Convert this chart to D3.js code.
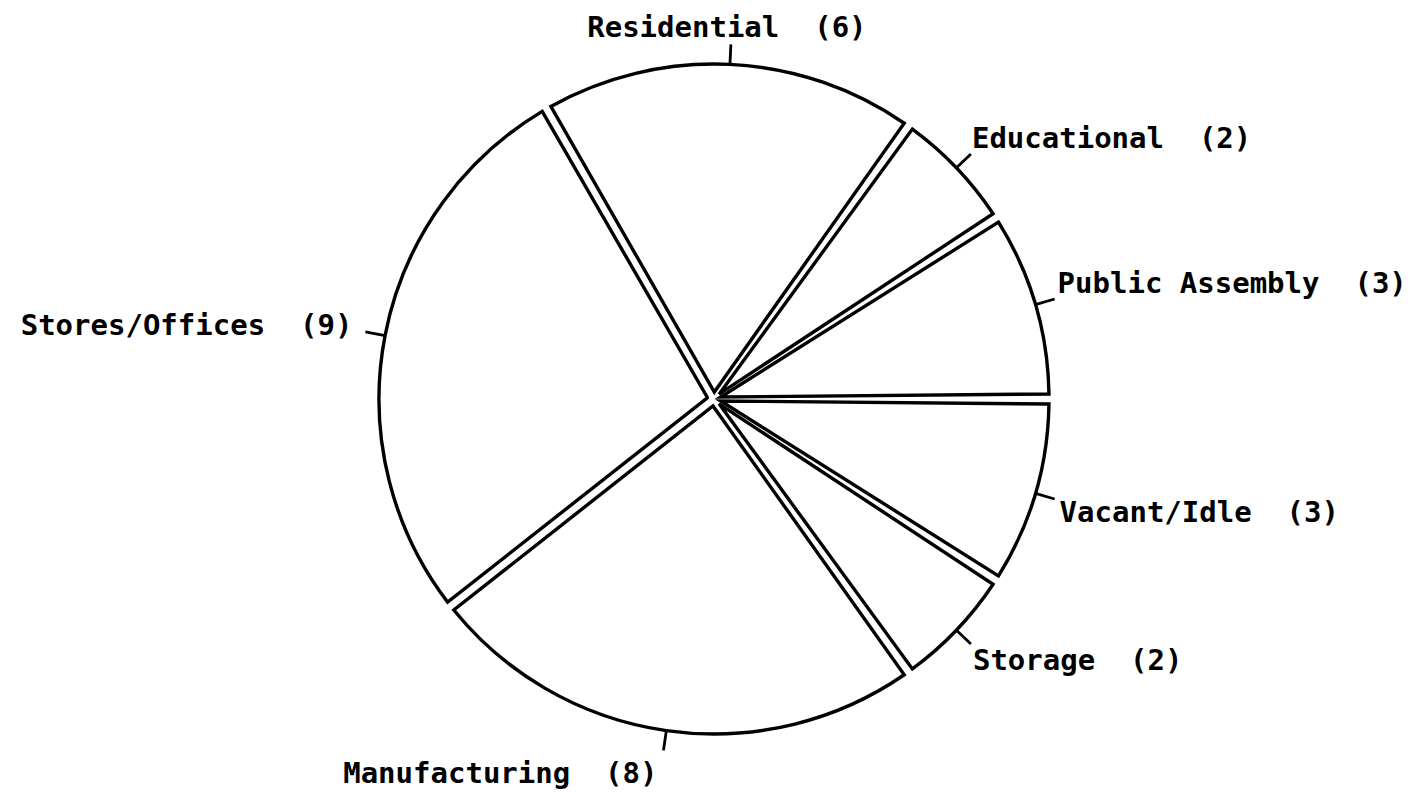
<!DOCTYPE html>
<html>
<head>
<meta charset="utf-8">
<script src="https://cdn.jsdelivr.net/npm/d3@7"></script>
<style>
  html, body { margin: 0; padding: 0; background: #fff; }
  svg { display: block; }
  text { font-family: "DejaVu Sans Mono", "Liberation Mono", monospace; font-weight: bold; font-size: 29px; fill: #000; white-space: pre; }
</style>
</head>
<body>
<svg id="chart" width="1420" height="793"></svg>
<script>
// Data (counterclockwise from the 3 o'clock position)
const categories = ["Public Assembly", "Educational", "Residential", "Stores/Offices", "Manufacturing", "Storage", "Vacant/Idle"];
const counts = [3, 2, 6, 9, 8, 2, 3];

// Layout
const W = 1420, H = 793;
const cx = 714, cy = 399, R = 335;
const tickLen = 20;
// label placement: [anchor, dx, dy] relative to the end of the leader tick
const labelLayout = {
  "Public Assembly": ["start", 3, -6],
  "Educational": ["start", 1, -6],
  "Residential": ["middle", -4, -7],
  "Stores/Offices": ["end", -13, 3],
  "Manufacturing": ["end", -6, 33],
  "Storage": ["start", 2, 26],
  "Vacant/Idle": ["start", 5, 23]
};

const data = categories.map((c, i) => ({ name: c, value: counts[i] }));

const svg = d3.select("#chart");
const g = svg.append("g").attr("transform", `translate(${cx},${cy})`);

const pie = d3.pie()
  .sort(null)
  .value(d => d.value)
  .startAngle(Math.PI / 2)
  .endAngle(Math.PI / 2 - 2 * Math.PI);

const arcs = pie(data);

const arc = d3.arc()
  .innerRadius(7)
  .outerRadius(R)
  .padRadius(R)
  .padAngle(2 * Math.asin(5 / R));

g.selectAll("path.slice")
  .data(arcs)
  .join("path")
  .attr("class", "slice")
  .attr("d", arc)
  .attr("fill", "#fff")
  .attr("stroke", "#000")
  .attr("stroke-width", 3.4)
  .attr("stroke-linejoin", "miter");

function pt(a, r) { return [r * Math.sin(a), -r * Math.cos(a)]; }

arcs.forEach(d => {
  const a = (d.startAngle + d.endAngle) / 2;
  const p0 = pt(a, R);
  const p1 = pt(a, R + tickLen);
  g.append("line")
    .attr("x1", p0[0]).attr("y1", p0[1])
    .attr("x2", p1[0]).attr("y2", p1[1])
    .attr("stroke", "#000")
    .attr("stroke-width", 2.8);
  const L = labelLayout[d.data.name];
  g.append("text")
    .attr("x", p1[0] + L[1])
    .attr("y", p1[1] + L[2])
    .attr("text-anchor", L[0])
    .text(`${d.data.name}  (${d.data.value})`);
});
</script>
</body>
</html>
